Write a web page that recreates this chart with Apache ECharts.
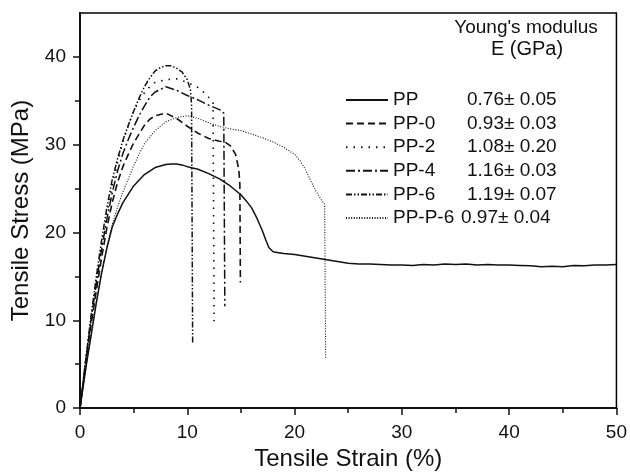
<!DOCTYPE html>
<html>
<head>
<meta charset="utf-8">
<script src="https://cdn.jsdelivr.net/npm/echarts@6/dist/echarts.min.js"></script>
<style>
  html, body { margin: 0; padding: 0; background: #fff; }
  #chart { width: 630px; height: 476px; }
</style>
</head>
<body>
<div id="chart"></div>
<script>
  // values (strain %, stress MPa)
  const ppStrain = [0, 0.3, 0.6, 1, 1.5, 2, 2.5, 3, 3.5, 4, 5, 6, 7, 8, 8.5, 9, 9.5, 10, 11, 12, 13, 14, 15, 15.5, 16, 16.5, 17, 17.3, 17.6, 18, 18.5, 19, 20,
    21, 22, 23, 24, 25, 26, 27, 28, 29, 30, 31, 32, 33, 34, 35, 36, 37, 38, 39, 40, 41, 42, 43, 44, 45, 46, 47, 48, 49, 50]
  const ppStress = [0, 2.5, 5, 8, 11.8, 15.3, 18.2, 20.6, 22.1, 23.4, 25.3, 26.6, 27.4, 27.75, 27.8, 27.8, 27.7, 27.5, 27.2, 26.7, 26.1, 25.3, 24.3, 23.6, 22.8, 21.6, 20.2, 19.2, 18.3, 17.8, 17.7, 17.6, 17.5,
    17.3, 17.1, 16.9, 16.7, 16.5, 16.4, 16.4, 16.35, 16.3, 16.3, 16.25, 16.35, 16.3, 16.4, 16.35, 16.4, 16.3, 16.35, 16.3, 16.3, 16.25, 16.2, 16.1, 16.15, 16.1, 16.25, 16.2, 16.3, 16.3, 16.35]

  const pp0Strain = [0, 0.5, 1, 1.5, 2, 2.5, 3, 3.5, 4, 4.5, 5, 5.5, 6, 6.5, 7, 8, 9, 10, 11, 12, 13, 13.5, 14, 14.5, 14.8, 14.9, 14.95]
  const pp0Stress = [0, 4.8, 9.3, 13.2, 17, 20.5, 23.4, 25.7, 27.5, 28.9, 30.2, 31.2, 32.2, 32.9, 33.3, 33.6, 33, 32.1, 31.3, 30.7, 30.4, 30.3, 29.9, 28.9, 27.2, 25.5, 14.3]

  const pp2Strain = [0, 0.5, 1, 1.5, 2, 2.5, 3, 3.5, 4, 4.5, 5, 5.5, 6, 6.5, 7, 8, 9, 10, 11, 11.5, 12, 12.4, 12.5]
  const pp2Stress = [0, 5.1, 10, 14.4, 18.5, 22.2, 25.3, 28, 30.3, 32.2, 33.8, 35, 35.9, 36.6, 37.1, 37.4, 37.5, 37.1, 36.5, 36, 35.4, 34.8, 9.9]

  const pp4Strain = [0, 0.5, 1, 1.5, 2, 2.5, 3, 3.5, 4, 4.5, 5, 5.5, 6, 6.5, 7, 8, 9, 10, 11, 12, 13, 13.4, 13.5]
  const pp4Stress = [0, 5, 9.8, 14, 18, 21.5, 24.5, 27, 29, 30.6, 32, 33.3, 34.4, 35.4, 36, 36.6, 36.2, 35.6, 35.1, 34.5, 34, 33.6, 11.6]

  const pp6Strain = [0, 0.5, 1, 1.5, 2, 2.5, 3, 3.5, 4, 4.5, 5, 5.5, 6, 6.5, 7, 7.5, 8, 8.5, 9, 9.5, 10, 10.3, 10.4, 10.5]
  const pp6Stress = [0, 5.2, 10.2, 14.8, 19, 22.8, 26, 28.4, 30.5, 32.2, 33.8, 35.3, 36.6, 37.6, 38.4, 38.8, 39, 39, 38.7, 38.3, 37.4, 36.2, 34.5, 7.3]

  const ppp6Strain = [0, 0.5, 1, 1.5, 2, 2.5, 3, 3.5, 4, 4.5, 5, 5.5, 6, 7, 8, 9, 10, 11, 12, 13, 14, 15, 16, 17, 18, 19, 20, 20.5, 21, 21.5, 22, 22.5, 22.8, 22.9]
  const ppp6Stress = [0, 4.2, 8.3, 12, 15.3, 18.3, 20.9, 22.9, 24.6, 26.1, 27.6, 28.9, 30.1, 31.6, 32.6, 33.1, 33.3, 33, 32.5, 32.1, 31.8, 31.6, 31.2, 30.8, 30.3, 29.7, 28.9, 28.2, 27.2, 25.9, 24.7, 23.7, 23.2, 5.7]

  const names = ['PP', 'PP-0', 'PP-2', 'PP-4', 'PP-6', 'PP-P-6']
  const modulus = ['0.76\u00b1 0.05', '0.93\u00b1 0.03', '1.08\u00b1 0.20', '1.16\u00b1 0.03', '1.19\u00b1 0.07', '0.97\u00b1 0.04']
  const xTicks = [0, 10, 20, 30, 40, 50]
  const yTicks = [0, 10, 20, 30, 40]

  const FONT = '"Liberation Sans", Arial, sans-serif'
  const zip = (xs, ys) => xs.map((x, i) => [x, ys[i]])

  const curves = [
    { data: zip(ppStrain, ppStress), type: 'solid', width: 1.5 },
    { data: zip(pp0Strain, pp0Stress), type: [7, 4], width: 1.6 },
    { data: zip(pp2Strain, pp2Stress), type: [1.5, 6], width: 1.6 },
    { data: zip(pp4Strain, pp4Stress), type: [9, 3, 2, 3], width: 1.5 },
    { data: zip(pp6Strain, pp6Stress), type: [6, 2, 1.5, 2, 1.5, 2], width: 1.5 },
    { data: zip(ppp6Strain, ppp6Stress), type: [1, 1.6], width: 1.1 },
  ]

  const chart = echarts.init(document.getElementById('chart'))
  chart.setOption({
    animation: false,
    backgroundColor: '#fff',
    textStyle: { fontFamily: FONT },
    grid: {
      left: 80, right: 13, top: 13, bottom: 61,
      show: true, borderColor: '#000', borderWidth: 1.5,
    },
    graphic: [
      { type: 'text', x: 526, y: 18, style: { text: "Young's modulus", font: '19px ' + FONT, fill: '#111', textAlign: 'center' } },
      { type: 'text', x: 527, y: 39, style: { text: 'E (GPa)', font: '20px ' + FONT, fill: '#111', textAlign: 'center' } },
    ],
    legend: {
      orient: 'vertical',
      left: 340, top: 85,
      itemWidth: 42, itemHeight: 12,
      itemGap: 3.6,
      itemStyle: { opacity: 0 },
      data: names,
      formatter: (name) => {
        const i = names.indexOf(name)
        return '{' + (i === 5 ? 'm' : 'n') + '|' + name + '}{v|' + modulus[i] + '}'
      },
      textStyle: {
        fontFamily: FONT, fontSize: 19, color: '#111', lineHeight: 20,
        rich: {
          n: { fontFamily: FONT, fontSize: 19, color: '#111', width: 74 },
          m: { fontFamily: FONT, fontSize: 19, color: '#111', width: 68 },
          v: { fontFamily: FONT, fontSize: 19, color: '#111' },
        },
      },
    },
    xAxis: {
      type: 'value', min: 0, max: 50, interval: 10,
      name: 'Tensile Strain (%)', nameLocation: 'middle', nameGap: 37,
      nameTextStyle: { fontFamily: FONT, fontSize: 24, color: '#111' },
      axisLine: { onZero: false, lineStyle: { color: '#111', width: 2 } },
      axisTick: { show: true, inside: false, length: 7, lineStyle: { color: '#111', width: 1.5 } },
      minorTick: { show: true, splitNumber: 2, length: 5, lineStyle: { color: '#111', width: 1.5 } },
      axisLabel: { fontFamily: FONT, fontSize: 19, color: '#111', margin: 15, customValues: xTicks },
      splitLine: { show: false },
    },
    yAxis: {
      type: 'value', min: 0, max: 45, interval: 10,
      name: 'Tensile Stress (MPa)', nameLocation: 'middle', nameGap: 47,
      nameTextStyle: { fontFamily: FONT, fontSize: 24, color: '#111' },
      axisLine: { onZero: false, lineStyle: { color: '#111', width: 2 } },
      axisTick: { show: true, inside: false, length: 7, lineStyle: { color: '#111', width: 1.5 }, customValues: yTicks },
      minorTick: { show: true, splitNumber: 2, length: 5, lineStyle: { color: '#111', width: 1.5 } },
      axisLabel: { fontFamily: FONT, fontSize: 19, color: '#111', margin: 14, customValues: yTicks },
      splitLine: { show: false },
    },
    series: curves.map((c, i) => ({
      name: names[i],
      type: 'line',
      data: c.data,
      symbol: 'none',
      showSymbol: false,
      color: '#111',
      lineStyle: { color: '#111', width: c.width, type: c.type },
    })),
  })
</script>
</body>
</html>
